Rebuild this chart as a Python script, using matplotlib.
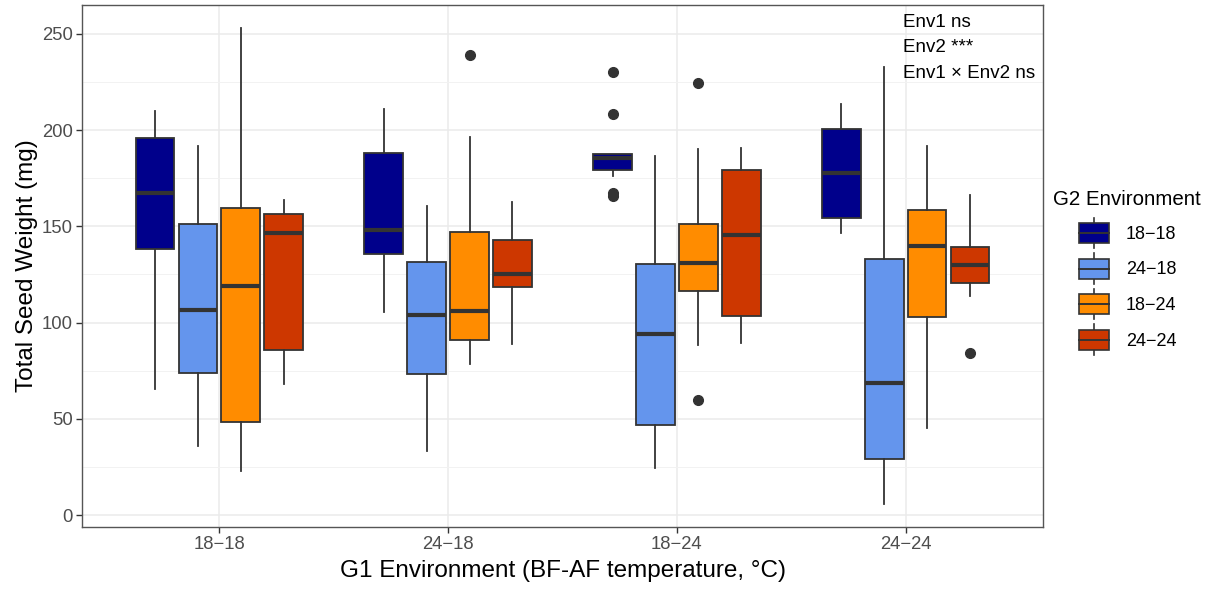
import matplotlib
matplotlib.use('Agg')
import matplotlib.pyplot as plt
from matplotlib.patches import Patch, Rectangle
from matplotlib.lines import Line2D
from matplotlib.legend_handler import HandlerBase
from matplotlib.ticker import MultipleLocator

plt.rcParams['font.family'] = ['Liberation Sans', 'DejaVu Sans']

### 데이터
g1_labels = ['18\u221218', '24\u221218', '18\u221224', '24\u221224']
g2_labels = ['18\u221218', '24\u221218', '18\u221224', '24\u221224']
g2_colors = ['#00008B', '#6495ED', '#FF8C00', '#CD3700']

# G2 = 18-18
hi_1818 = [210.1, 210.8, 187.6, 213.8]
q3_1818 = [195.9, 187.9, 187.4, 200.8]
med_1818 = [167.5, 148.0, 185.7, 177.7]
q1_1818 = [138.0, 135.4, 179.5, 154.2]
lo_1818 = [65.6, 105.5, 176.0, 146.8]
out_1818 = [[], [], [230.0, 208.5, 167.5, 165.8], []]

# G2 = 24-18
hi_2418 = [191.8, 160.7, 186.4, 233.0]
q3_2418 = [151.4, 131.7, 130.6, 132.9]
med_2418 = [106.5, 104.1, 94.1, 68.7]
q1_2418 = [73.8, 73.1, 46.6, 29.2]
lo_2418 = [36.0, 33.1, 24.3, 5.8]
out_2418 = [[], [], [], []]

# G2 = 18-24
hi_1824 = [252.8, 196.6, 190.2, 191.5]
q3_1824 = [159.3, 147.2, 151.4, 158.6]
med_1824 = [119.2, 106.0, 131.2, 139.8]
q1_1824 = [48.2, 90.9, 116.2, 102.7]
lo_1824 = [23.0, 78.6, 88.4, 45.4]
out_1824 = [[], [238.9], [224.5, 59.8], []]

# G2 = 24-24
hi_2424 = [163.9, 162.6, 190.8, 166.3]
q3_2424 = [156.3, 142.9, 179.3, 139.2]
med_2424 = [146.6, 125.0, 145.6, 129.7]
q1_2424 = [86.0, 118.7, 103.2, 120.8]
lo_2424 = [67.9, 89.0, 89.3, 113.7]
out_2424 = [[], [], [], [84.0]]

anova_lines = ['Env1 ns', 'Env2 ***', 'Env1 \u00d7 Env2 ns']

series = [
    (hi_1818, q3_1818, med_1818, q1_1818, lo_1818, out_1818),
    (hi_2418, q3_2418, med_2418, q1_2418, lo_2418, out_2418),
    (hi_1824, q3_1824, med_1824, q1_1824, lo_1824, out_1824),
    (hi_2424, q3_2424, med_2424, q1_2424, lo_2424, out_2424),
]

edge = '#333333'
W, H = 1215, 590
fig = plt.figure(figsize=(W / 100, H / 100), dpi=100)
ax = fig.add_axes([82 / W, 1 - 527 / H, (1043 - 82) / W, (527 - 5) / H])

dodge = 0.75 / 4
for k, (hi, q3, med, q1, lo, out) in enumerate(series):
    stats = []
    for g in range(4):
        stats.append(dict(med=med[g], q1=q1[g], q3=q3[g], whislo=lo[g], whishi=hi[g], fliers=out[g]))
    pos = [g + 1 + (k - 1.5) * dodge for g in range(4)]
    ax.bxp(stats, positions=pos, widths=dodge * 0.9, patch_artist=True, showcaps=False,
           boxprops=dict(facecolor=g2_colors[k], edgecolor=edge, linewidth=1.3),
           medianprops=dict(color=edge, linewidth=3.0),
           whiskerprops=dict(color=edge, linewidth=1.3),
           flierprops=dict(marker='o', markerfacecolor=edge, markeredgecolor=edge, markersize=7),
           manage_ticks=False, zorder=3)

ax.set_xlim(0.4, 4.6)
ax.set_ylim(-6.2, 265)
ax.set_xticks([1, 2, 3, 4])
ax.set_xticklabels(g1_labels)
ax.yaxis.set_major_locator(MultipleLocator(50))
ax.yaxis.set_minor_locator(MultipleLocator(25))
ax.grid(which='major', color='#EBEBEB', linewidth=1.1, zorder=0)
ax.grid(which='minor', axis='y', color='#F2F2F2', linewidth=0.7, zorder=0)
ax.set_axisbelow(True)
ax.tick_params(which='major', length=4, width=1, color=edge, labelcolor='#4D4D4D', labelsize=13.3, pad=2.5)
ax.tick_params(which='minor', length=0)
for s in ax.spines.values():
    s.set_color('#555555')
    s.set_linewidth(1.0)

ax.set_xlabel('G1 Environment (BF-AF temperature, \u00b0C)', fontsize=17.5, labelpad=5)
ax.set_ylabel('Total Seed Weight (mg)', fontsize=17.5, labelpad=3)

for i, line in enumerate(anova_lines):
    ax.text(0.854, 0.967 - i * 0.0487, line, transform=ax.transAxes, fontsize=13.5,
            ha='left', va='center', color='black', zorder=5)


class BoxKey(HandlerBase):
    def create_artists(self, legend, orig_handle, xdescent, ydescent, width, height, fontsize, trans):
        fc = orig_handle.get_facecolor()
        x0 = -xdescent + 18.7
        bw = 21.6
        cy = -ydescent + height / 2
        bh = 14.4
        whisk = Line2D([x0 + bw / 2] * 2, [cy - 11, cy + 11], color=edge, lw=1.2, transform=trans)
        box = Rectangle((x0, cy - bh / 2), bw, bh, facecolor=fc, edgecolor=edge, lw=1.2, transform=trans)
        mline = Line2D([x0, x0 + bw], [cy, cy], color=edge, lw=1.4, transform=trans)
        return [whisk, box, mline]


handles = [Patch(facecolor=c, edgecolor=edge) for c in g2_colors]
leg = fig.legend(handles, g2_labels, handler_map={Patch: BoxKey()}, loc='upper left',
                 bbox_to_anchor=(1053 / W, 1 - 190 / H), frameon=False, fontsize=13,
                 title='G2 Environment', title_fontsize=14.8, alignment='left',
                 handlelength=3.49, handleheight=1.6, handletextpad=0.55, labelspacing=0.685,
                 borderpad=0, borderaxespad=0)

plt.savefig('out.png', dpi=100)
